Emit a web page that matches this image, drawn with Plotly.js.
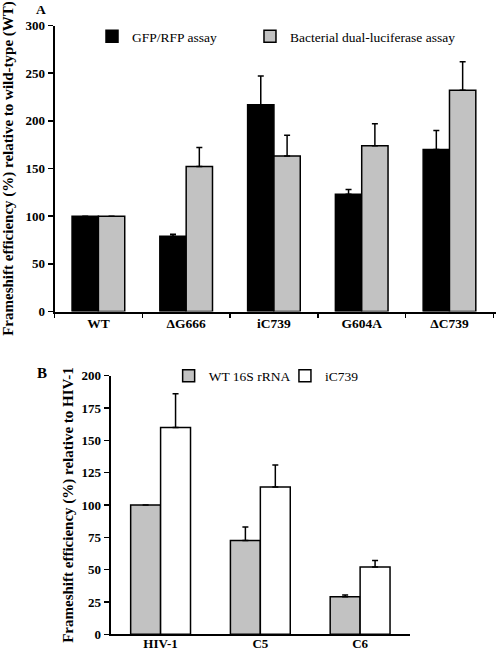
<!DOCTYPE html>
<html>
<head>
<meta charset="utf-8">
<script src="https://cdn.plot.ly/plotly-3.0.1.min.js"></script>
<style>html,body{margin:0;padding:0;background:#fff;}#chart{width:496px;height:651px;}</style>
</head>
<body>
<div id="chart"></div>
<script>
// Panel A data
const catsA = ['WT', 'ΔG666', 'iC739', 'G604A', 'ΔC739'];
const gfpVals = [100, 79, 217, 123, 170];
const gfpErr = [0, 2, 30, 5, 20];
const lucVals = [100, 152, 163, 174, 232];
const lucErr = [0, 20, 22, 23, 30];

// Panel B data
const catsB = ['HIV-1', 'C5', 'C6'];
const wtVals = [100, 72.5, 29];
const wtErr = [0, 10.5, 1.3];
const icVals = [160, 114, 52];
const icErr = [26, 17, 5];

const serif = '"Liberation Serif", "Times New Roman", Times, serif';
const gray = '#c2c2c2';

function zeros(n) { return new Array(n).fill(0); }
function errY(arr) {
  return {type: 'data', array: arr, arrayminus: zeros(arr.length), symmetric: false,
          color: '#000', thickness: 1.5, width: 3};
}

const traces = [
  {type: 'bar', name: 'GFP/RFP assay', x: catsA, y: gfpVals, xaxis: 'x', yaxis: 'y',
   marker: {color: '#000', line: {color: '#000', width: 1.5}}, error_y: errY(gfpErr), legend: 'legend'},
  {type: 'bar', name: 'Bacterial dual-luciferase assay', x: catsA, y: lucVals, xaxis: 'x', yaxis: 'y',
   marker: {color: gray, line: {color: '#000', width: 1.5}}, error_y: errY(lucErr), legend: 'legend2'},
  {type: 'bar', name: 'WT 16S rRNA', x: catsB, y: wtVals, xaxis: 'x2', yaxis: 'y2',
   marker: {color: gray, line: {color: '#000', width: 1.5}}, error_y: errY(wtErr), legend: 'legend3'},
  {type: 'bar', name: 'iC739', x: catsB, y: icVals, xaxis: 'x2', yaxis: 'y2',
   marker: {color: '#fff', line: {color: '#000', width: 1.5}}, error_y: errY(icErr), legend: 'legend4'}
];

const tickFont = {family: serif, size: 13, color: '#000', weight: 'bold'};
const xFont = {family: serif, size: 13.5, color: '#000', weight: 'bold'};
const titleFont = {family: serif, size: 15, color: '#000', weight: 'bold'};
const legFont = {family: serif, size: 13.5, color: '#000'};

function leg(x, y) {
  return {orientation: 'h', x: x, xanchor: 'left', y: y, yanchor: 'top',
          font: legFont, bgcolor: 'rgba(0,0,0,0)', itemclick: false};
}

const layout = {
  width: 496, height: 651,
  margin: {l: 0, r: 0, t: 0, b: 0},
  paper_bgcolor: '#fff', plot_bgcolor: '#fff',
  barmode: 'group', bargap: 0.4, bargroupgap: 0,
  font: {family: serif, color: '#000'},
  xaxis: {domain: [0.1099, 1], range: [-0.5, 4.53], type: 'category', anchor: 'y',
          showline: true, linecolor: '#000', linewidth: 2, ticks: 'outside', tickson: 'boundaries',
          ticklen: 4, tickwidth: 1.5, tickcolor: '#000', tickfont: xFont, ticklabelstandoff: -2,
          showgrid: false, zeroline: false},
  yaxis: {domain: [0.5215, 0.9608], range: [0, 300], dtick: 50, anchor: 'x',
          showline: true, linecolor: '#000', linewidth: 2, ticks: 'outside', ticklen: 5, tickwidth: 1.5,
          tickcolor: '#000', tickfont: tickFont, showgrid: false, zeroline: false,
          title: {text: 'Frameshift efficiency (%) relative to wild-type (WT)', font: titleFont, standoff: 12}},
  xaxis2: {domain: [0.2232, 0.8266], range: [-0.5, 2.5], type: 'category', anchor: 'y2',
           showline: true, linecolor: '#000', linewidth: 2, ticks: '', tickfont: tickFont,
           ticklabelstandoff: -4, showgrid: false, zeroline: false},
  yaxis2: {domain: [0.02565, 0.4229], range: [0, 200], dtick: 25, anchor: 'x2',
           showline: true, linecolor: '#000', linewidth: 2, ticks: 'outside', ticklen: 5, tickwidth: 1.5,
           tickcolor: '#000', tickfont: tickFont, showgrid: false, zeroline: false,
           title: {text: 'Frameshift efficiency (%) relative to HIV-1', font: titleFont, standoff: 4}},
  legend: leg(0.1855, 0.9677),
  legend2: leg(0.504, 0.9677),
  legend3: leg(0.340, 0.4462),
  legend4: leg(0.5745, 0.4462),
  annotations: [
    {text: 'A', x: 0.0817, y: 1, xref: 'paper', yref: 'paper', xanchor: 'center', yanchor: 'top',
     showarrow: false, font: {family: serif, size: 13.5, color: '#000', weight: 'bold'}},
    {text: 'B', x: 0.0847, y: 0.427, xref: 'paper', yref: 'paper', xanchor: 'center', yanchor: 'middle',
     showarrow: false, font: {family: serif, size: 15, color: '#000', weight: 'bold'}}
  ],
  showlegend: true
};

Plotly.newPlot('chart', traces, layout, {staticPlot: true, displayModeBar: false});
</script>
</body>
</html>
